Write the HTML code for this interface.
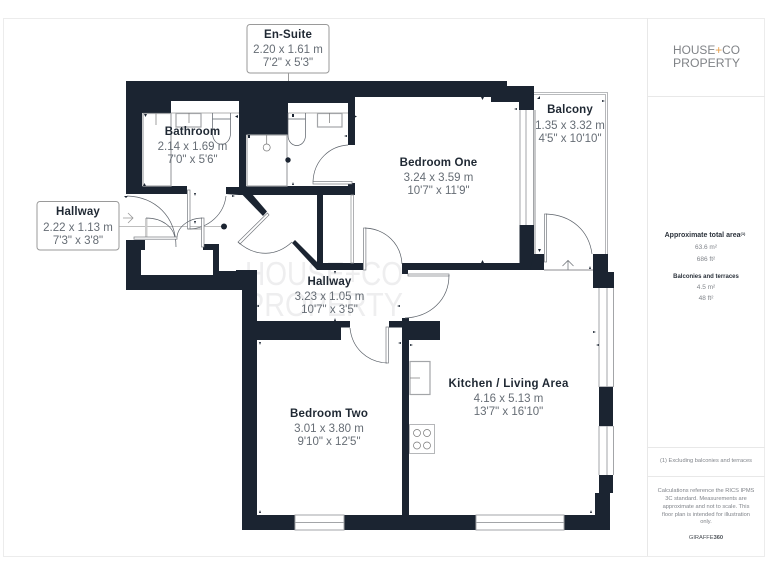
<!DOCTYPE html>
<html><head><meta charset="utf-8"><style>
html,body{margin:0;padding:0;background:#fff;width:768px;height:576px;overflow:hidden}
svg{display:block}
text{font-family:"Liberation Sans",sans-serif}
.t{font-size:11.5px;font-weight:bold;fill:#1f2833;text-anchor:middle;letter-spacing:.15px}
.d{font-size:11.5px;fill:#666d75;text-anchor:middle}
.w{fill:#1b2431}
.g{fill:#fff;stroke:#a3a5a8;stroke-width:1}
.a{fill:none;stroke:#5a6068;stroke-width:.7}
.p{fill:#fff;stroke:#777b80;stroke-width:.7}
.m{fill:#1b2431}
</style></head><body>
<svg width="768" height="576" viewBox="0 0 768 576" xmlns="http://www.w3.org/2000/svg">
<rect x="3.5" y="18.5" width="761" height="538" fill="#fff" stroke="#ececec"/>
<path d="M647.5 18V556M647 96.5H765M647 447.5H765M647 476.5H765" stroke="#e8e8e8" fill="none"/>

<!-- watermark -->
<g fill="#eeeeef" font-size="33" text-anchor="middle">
<text x="324" y="285" textLength="158" lengthAdjust="spacingAndGlyphs">HOUSE+CO</text>
<text x="324" y="316" textLength="158" lengthAdjust="spacingAndGlyphs">PROPERTY</text>
</g>

<!-- balcony -->
<path d="M534 92.5H607.5V254M534 94.5H605.5V254" fill="none" stroke="#a3a5a8" stroke-width=".8"/>
<path d="M535 110V262M544 270H593" fill="none" stroke="#a3a5a8" stroke-width="1.2"/>
<rect x="544.5" y="214" width="2" height="48" class="p"/>
<path d="M546 214C572 215 589 231 592 254" class="a"/>
<path d="M568 270V260M562.5 266L568 260.5L573.5 266" fill="none" stroke="#777b80" stroke-width=".8"/>

<!-- walls -->
<path class="w" d="M126 81H507V86H534V110H519V102H491V97H355V145H348V103H288V135H246V186H348V183H355V195H239L226 194V187H239V101H171V113H142V186H187V194H126Z"/>
<rect x="519.5" y="225" width="14.5" height="45" class="w"/>
<path class="w" d="M402 263H520V270H408V274H402Z"/>
<path class="w" d="M534 254H544V270H530Z"/>
<path class="w" d="M593 254H608V272H614V288H593Z"/>
<rect x="599" y="386.7" width="14" height="39.5" class="w"/>
<path class="w" d="M241.7 194H252L267 211.5L263 216Z"/>
<path class="w" d="M295 240L317 262V194H323V263H363V270H317L292 243Z"/>
<path class="w" d="M126 240H145V250H141V275H213V250H203V244H219V271H236V270H257V515H402V327.5H389V321H402V318H409V321H440V340H409V515H595V493H599V475H613V493H610V530H242V290H126Z"/>
<path class="w" d="M257 321H350V327.5H341V340H257Z"/>

<!-- windows -->
<rect x="295" y="515" width="49" height="15" class="g"/>
<path d="M295 522.5H344" stroke="#a3a5a8"/>
<rect x="476" y="515" width="88" height="15" class="g"/>
<path d="M476 522.5H564" stroke="#a3a5a8"/>
<path d="M599 288V387M607 288V387M613.5 288V387M599 426V475M607 426V475M613.5 426V475" stroke="#a3a5a8" fill="none"/>
<path d="M520 110V225M526 110V225M533.5 110V225" stroke="#a3a5a8" fill="none"/>
<rect x="351" y="195" width="2.5" height="68" fill="#fff" stroke="#9b9da0" stroke-width=".8"/>

<!-- bathroom fixtures -->
<path d="M171 113H239M288 113H348" stroke="#999" stroke-width=".8" fill="none"/>
<rect x="143" y="113.5" width="28" height="72.5" fill="#fff" stroke="#a3a5a8" stroke-width="1.2"/>
<path d="M156 113.5V125" stroke="#777" stroke-width=".7"/>
<rect x="176" y="113.5" width="25" height="13.5" fill="#fff" stroke="#a3a5a8" stroke-width="1.2"/>
<path d="M189 113V123" stroke="#777" stroke-width=".7"/>
<path d="M212.5 113V119H230.5V113M212.5 119V133C212.5 148 230.5 148 230.5 133V119" class="a"/>
<rect x="247" y="135" width="40" height="51" fill="#fff" stroke="#a3a5a8" stroke-width="1.2"/>
<circle cx="266.7" cy="147.5" r="3.5" fill="#fff" stroke="#777" stroke-width=".7"/>
<path d="M266.7 135V144" stroke="#777" stroke-width=".7"/>
<path d="M288 113V119H305.5V113M288 119V135C288 149 305.5 149 305.5 135V119" class="a"/>
<rect x="317.5" y="113.5" width="24.5" height="13.5" fill="#fff" stroke="#a3a5a8" stroke-width="1.2"/>
<path d="M329.5 113V123" stroke="#777" stroke-width=".7"/>
<circle cx="288" cy="160" r="2.7" class="m"/>
<rect x="313" y="181.5" width="39" height="2.5" class="p"/>
<path d="M313 181.5C314 160 330 146 348 145" class="a"/>

<!-- entry doors -->
<path d="M119 226.5H222" stroke="#a8a8a8" stroke-width=".7"/>
<path d="M123 218H133M128 213L133 218L128 223" fill="none" stroke="#999" stroke-width=".8"/>
<circle cx="224" cy="226.5" r="3" class="m"/>
<path d="M127 196C155 197 176 216 176 247" class="a"/>
<rect x="145" y="218" width="2.5" height="19" fill="#ccc"/>
<path d="M146 218C162 218 174 227 175 239" class="a"/>
<rect x="134" y="237" width="43" height="2.2" class="p"/>
<rect x="187.5" y="190" width="2.5" height="39" class="p"/>
<path d="M188 229H203" stroke="#777" stroke-width=".7"/>
<path d="M226 196C224 214 209 228 190 229" class="a"/>
<rect x="201.5" y="218" width="2.5" height="29" class="p"/>
<path d="M177 237C178 226 190 218 202 218" class="a"/>

<!-- hall doors -->
<path d="M267.5 213L238 242L240 244L269 215Z" class="p"/>
<path d="M238 242C256 258 277 256 292 242" class="a"/>
<rect x="363.5" y="228" width="2.4" height="42" class="p"/>
<path d="M365 228C386 229 401 244 402 264" class="a"/>
<rect x="408" y="274" width="41" height="2" class="p"/>
<path d="M449 275C449 300 430 317 405 318" class="a"/>
<rect x="386" y="327" width="2.5" height="36" class="p"/>
<path d="M350 328C352 348 367 362 387 363" class="a"/>

<!-- kitchen -->
<rect x="410" y="361.5" width="20" height="33" fill="#fff" stroke="#a3a5a8" stroke-width="1.2"/>
<path d="M410 378H420" stroke="#777" stroke-width=".7"/>
<rect x="409.5" y="424.5" width="25" height="29" fill="#fff" stroke="#a3a5a8" stroke-width=".8"/>
<g fill="none" stroke="#777" stroke-width=".7">
<circle cx="417" cy="433" r="3.5"/><circle cx="427" cy="433" r="3.5"/>
<circle cx="417" cy="445.5" r="3.5"/><circle cx="427" cy="445.5" r="3.5"/>
</g>

<!-- dimension markers -->
<g class="m">
<path d="M144 114h3l-1.500 3zM143 186h3l-1.500-3zM238 115v3l-3-1.500zM354 115v3l3-1.500zM292 114h2v3h-2zM292 185h2l-1-3zM347 135v2l-3-1zM248 135h2v3h-2z"/>
<path d="M481 97h3l-1.500 3zM481 263h3l-1.500-3zM517 108v2l-3-1zM537 99l3-3v3zM602 100v2l3-1zM538 249h3l-1.500 3zM589 269h2l-1-3zM593 331v2l3-1zM599 344v2l-3-1zM410 344v2l3-1zM401 342v2l-3-1zM400 305v2l-3-1zM259 305v2l-3-1zM334 271h2l-1 3zM334 321h2l-1-3zM259 342h2l-1 3zM259 513h2l-1-3zM590 513h2l-1-3zM194 193h2l-1 3zM194 221h2l-1 3zM124 196h4l-2 2zM232 195v2l3-1z"/>
</g>

<!-- room labels -->
<text class="t" x="192.5" y="135">Bathroom</text>
<text class="d" x="192.5" y="150">2.14 x 1.69 m</text>
<text class="d" x="192.5" y="163">7'0" x 5'6"</text>
<text class="t" x="438.5" y="166">Bedroom One</text>
<text class="d" x="438.5" y="181">3.24 x 3.59 m</text>
<text class="d" x="438.5" y="194">10'7" x 11'9"</text>
<text class="t" x="570" y="113">Balcony</text>
<text class="d" x="570" y="129">1.35 x 3.32 m</text>
<text class="d" x="570" y="142">4'5" x 10'10"</text>
<text class="t" x="329.5" y="285">Hallway</text>
<text class="d" x="329.5" y="300">3.23 x 1.05 m</text>
<text class="d" x="329.5" y="313">10'7" x 3'5"</text>
<text class="t" x="508.5" y="387" textLength="120" lengthAdjust="spacing">Kitchen / Living Area</text>
<text class="d" x="508.5" y="402">4.16 x 5.13 m</text>
<text class="d" x="508.5" y="415">13'7" x 16'10"</text>
<text class="t" x="329" y="417" textLength="78" lengthAdjust="spacing">Bedroom Two</text>
<text class="d" x="329" y="432">3.01 x 3.80 m</text>
<text class="d" x="329" y="445">9'10" x 12'5"</text>

<!-- callouts -->
<path d="M288.5 73V81" stroke="#999"/>
<rect x="247" y="24.5" width="82" height="48.5" rx="3" fill="#fff" stroke="#9a9a9a"/>
<text class="t" x="288" y="38" textLength="48" lengthAdjust="spacing">En-Suite</text>
<text class="d" x="288" y="53">2.20 x 1.61 m</text>
<text class="d" x="288" y="66">7'2" x 5'3"</text>
<rect x="37" y="201.5" width="82" height="48.5" rx="3" fill="#fff" stroke="#9a9a9a"/>
<text class="t" x="78" y="215">Hallway</text>
<text class="d" x="78" y="231">2.22 x 1.13 m</text>
<text class="d" x="78" y="244">7'3" x 3'8"</text>

<!-- sidebar -->
<g font-size="11.5" fill="#808387">
<text x="673" y="54" textLength="67" lengthAdjust="spacingAndGlyphs">HOUSE<tspan fill="#e8a04c">+</tspan>CO</text>
<text x="673" y="67" textLength="67" lengthAdjust="spacingAndGlyphs">PROPERTY</text>
</g>
<g text-anchor="middle">
<text x="705" y="237" font-size="7" font-weight="bold" fill="#2b323b">Approximate total area<tspan font-size="4" dy="-2">(1)</tspan></text>
<text x="706" y="249" font-size="6.5" fill="#80848a">63.6 m²</text>
<text x="706" y="261" font-size="6.5" fill="#80848a">686 ft²</text>
<text x="706" y="278" font-size="6" font-weight="bold" fill="#2b323b">Balconies and terraces</text>
<text x="706" y="289" font-size="6.5" fill="#80848a">4.5 m²</text>
<text x="706" y="300" font-size="6.5" fill="#80848a">48 ft²</text>
<text x="706" y="462" font-size="5.7" fill="#80848a">(1) Excluding balconies and terraces</text>
<g font-size="5.7" fill="#80848a">
<text x="706" y="492">Calculations reference the RICS IPMS</text>
<text x="706" y="500">3C standard. Measurements are</text>
<text x="706" y="508">approximate and not to scale. This</text>
<text x="706" y="516">floor plan is intended for illustration</text>
<text x="706" y="523">only.</text>
</g>
<text x="706" y="539" font-size="5.7" fill="#4a4f55">GIRAFFE<tspan font-weight="bold">360</tspan></text>
</g>
</svg>
</body></html>
